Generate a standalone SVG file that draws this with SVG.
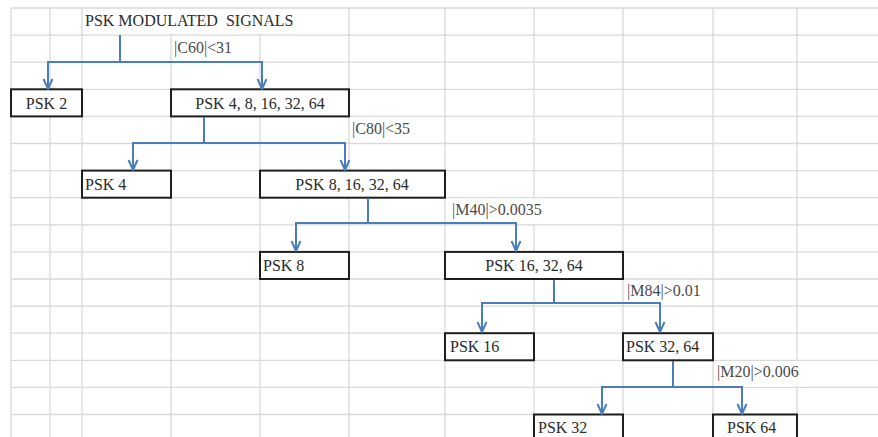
<svg xmlns="http://www.w3.org/2000/svg" width="878" height="437" viewBox="0 0 878 437">
<style>
.grid line{stroke:#d9d9d9;stroke-width:1.3}
.box rect{fill:#fff;stroke:#1e1e1e;stroke-width:2}
text{font-family:'Liberation Serif','Times New Roman','DejaVu Serif',serif;font-size:16px;fill:#2b2b2b}
.lbl{fill:#4a4a4a}
.c{text-anchor:middle}
.conn path{fill:none;stroke:#4a7ebb;stroke-width:2}
</style>
<defs>
<marker id="arr" markerUnits="userSpaceOnUse" markerWidth="12" markerHeight="12" viewBox="0 0 12 12" refX="11" refY="6" orient="auto">
<path d="M1,1.5 L11,6 L1,10.5" fill="none" stroke="#4a7ebb" stroke-width="2"/>
</marker>
</defs>
<rect width="878" height="437" fill="#fff"/>
<g class="grid">
<line x1="11" y1="8" x2="878" y2="8"/>
<line x1="11" y1="35.1" x2="878" y2="35.1"/>
<line x1="11" y1="62.2" x2="878" y2="62.2"/>
<line x1="11" y1="89.3" x2="878" y2="89.3"/>
<line x1="11" y1="116.4" x2="878" y2="116.4"/>
<line x1="11" y1="143.5" x2="878" y2="143.5"/>
<line x1="11" y1="170.6" x2="878" y2="170.6"/>
<line x1="11" y1="197.7" x2="878" y2="197.7"/>
<line x1="11" y1="224.8" x2="878" y2="224.8"/>
<line x1="11" y1="251.9" x2="878" y2="251.9"/>
<line x1="11" y1="279" x2="878" y2="279"/>
<line x1="11" y1="306.1" x2="878" y2="306.1"/>
<line x1="11" y1="333.2" x2="878" y2="333.2"/>
<line x1="11" y1="360.3" x2="878" y2="360.3"/>
<line x1="11" y1="387.4" x2="878" y2="387.4"/>
<line x1="11" y1="414.5" x2="878" y2="414.5"/>
<line x1="11" y1="8" x2="11" y2="437"/>
<line x1="50" y1="8" x2="50" y2="437"/>
<line x1="82" y1="8" x2="82" y2="437"/>
<line x1="171" y1="8" x2="171" y2="437"/>
<line x1="260" y1="8" x2="260" y2="437"/>
<line x1="349" y1="8" x2="349" y2="437"/>
<line x1="445" y1="8" x2="445" y2="437"/>
<line x1="534" y1="8" x2="534" y2="437"/>
<line x1="623" y1="8" x2="623" y2="437"/>
<line x1="713" y1="8" x2="713" y2="437"/>
<line x1="797" y1="8" x2="797" y2="437"/>
</g>
<g id="overflow" fill="#fff">
<rect x="83" y="9" width="215" height="25"/>
<rect x="446" y="198.7" width="100" height="25"/>
<rect x="714" y="361.3" width="90" height="25"/>
</g>
<g id="title"><text x="85" y="26" font-family="'Liberation Serif','DejaVu Serif',serif">PSK MODULATED&#160; SIGNALS</text></g>
<g id="labels">
<text class="lbl" x="174" y="53">|C60|&lt;31</text>
<text class="lbl" x="352" y="134">|C80|&lt;35</text>
<text class="lbl" x="452" y="215">|M40|&gt;0.0035</text>
<text class="lbl" x="627" y="296">|M84|&gt;0.01</text>
<text class="lbl" x="717" y="377">|M20|&gt;0.006</text>
</g>
<g id="n_psk2" class="box"><rect x="11" y="89.3" width="71" height="27.1"/><text class="c" x="46.5" y="109">PSK 2</text></g>
<g id="n_psk4_64" class="box"><rect x="171" y="89.3" width="178" height="27.1"/><text class="c" x="260" y="109">PSK 4, 8, 16, 32, 64</text></g>
<g id="n_psk4" class="box"><rect x="82" y="170.6" width="89" height="27.1"/><text x="85" y="190">PSK 4</text></g>
<g id="n_psk8_64" class="box"><rect x="260" y="170.6" width="185" height="27.1"/><text class="c" x="352" y="190">PSK 8, 16, 32, 64</text></g>
<g id="n_psk8" class="box"><rect x="260" y="251.9" width="89" height="27.1"/><text x="263" y="271">PSK 8</text></g>
<g id="n_psk16_64" class="box"><rect x="445" y="251.9" width="178" height="27.1"/><text class="c" x="534" y="271">PSK 16, 32, 64</text></g>
<g id="n_psk16" class="box"><rect x="445" y="333.2" width="89" height="27.1"/><text x="450" y="352">PSK 16</text></g>
<g id="n_psk32_64" class="box"><rect x="623" y="333.2" width="90" height="27.1"/><text x="626" y="352">PSK 32, 64</text></g>
<g id="n_psk32" class="box"><rect x="534" y="414.5" width="89" height="27.1"/><text x="538" y="433">PSK 32</text></g>
<g id="n_psk64" class="box"><rect x="713" y="414.5" width="84" height="27.1"/><text x="727" y="433">PSK 64</text></g>
<g id="connectors" class="conn">
<path d="M120,35 V62"/>
<path d="M120,62 H48 V89" marker-end="url(#arr)"/>
<path d="M120,62 H262 V89" marker-end="url(#arr)"/>
<path d="M204,117 V143"/>
<path d="M204,143 H133 V170" marker-end="url(#arr)"/>
<path d="M204,143 H345 V170" marker-end="url(#arr)"/>
<path d="M368,198 V223"/>
<path d="M368,223 H296 V251" marker-end="url(#arr)"/>
<path d="M368,223 H516 V251" marker-end="url(#arr)"/>
<path d="M554,280 V303"/>
<path d="M554,303 H482 V332" marker-end="url(#arr)"/>
<path d="M554,303 H660 V332" marker-end="url(#arr)"/>
<path d="M673,361 V387"/>
<path d="M673,387 H602 V414" marker-end="url(#arr)"/>
<path d="M673,387 H742 V414" marker-end="url(#arr)"/>
</g>
</svg>
